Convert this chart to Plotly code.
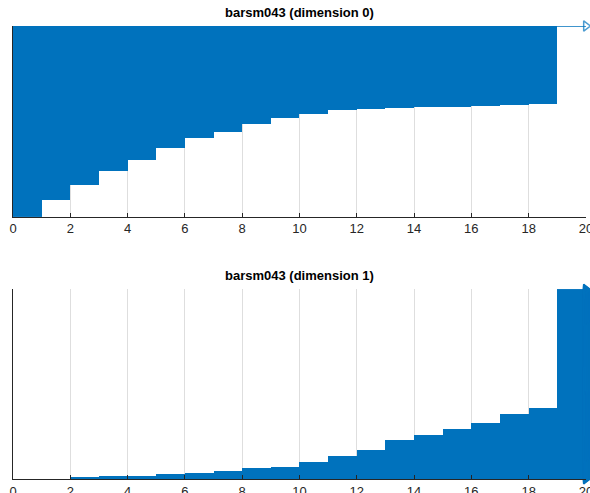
import plotly.graph_objects as go
from plotly.subplots import make_subplots

# Dimension 0: all bars born at 0; number of bars dying at each value
dim0_death_values = [1, 2, 3, 4, 5, 6, 7, 8, 9, 10, 11, 12, 13, 14, 15, 16, 17, 18, 19]
dim0_death_counts = [35, 29, 28, 23, 24, 19, 13, 15, 12, 9, 8, 2, 2, 1, 1, 1, 3, 2, 154]
dim0_infinite_count = 1

# Dimension 1: all bars infinite; number of bars born at each value
dim1_birth_values = [2, 3, 4, 5, 6, 7, 8, 9, 10, 11, 12, 13, 14, 15, 16, 17, 18, 19]
dim1_birth_counts = [2, 3, 0, 3, 3, 4, 5, 3, 9, 12, 13, 19, 11, 11, 13, 18, 13, 239]

x_max = 20
x_ticks = [0, 2, 4, 6, 8, 10, 12, 14, 16, 18, 20]
titles = ["barsm043 (dimension 0)", "barsm043 (dimension 1)"]

BLUE = "#0072BD"

# expand intervals
d0_birth, d0_death = [], []
for v, c in zip(dim0_death_values, dim0_death_counts):
    for _ in range(c):
        d0_birth.append(0)
        d0_death.append(v)
n0 = len(d0_birth) + dim0_infinite_count

d1_birth = []
for v, c in zip(dim1_birth_values, dim1_birth_counts):
    d1_birth.extend([v] * c)
n1 = len(d1_birth)

fig = make_subplots(rows=2, cols=1)

# top panel finite bars
fig.add_trace(go.Bar(
    orientation="h",
    y=list(range(len(d0_birth))),
    base=d0_birth,
    x=[d - b for b, d in zip(d0_birth, d0_death)],
    width=1.0,
    marker=dict(color=BLUE, line=dict(width=0)),
    showlegend=False, hoverinfo="skip",
), row=1, col=1)

# top panel infinite bar(s)
inf_rows = list(range(len(d0_birth), n0))
for r in inf_rows:
    fig.add_trace(go.Scatter(
        x=[0, x_max], y=[r, r], mode="lines+markers",
        line=dict(color=BLUE, width=1.5),
        marker=dict(symbol=["circle", "triangle-right-open"], size=[0, 9],
                    color=BLUE, line=dict(width=1.5, color=BLUE)),
        cliponaxis=False, showlegend=False, hoverinfo="skip",
    ), row=1, col=1)

# bottom panel infinite bars
fig.add_trace(go.Bar(
    orientation="h",
    y=list(range(n1)),
    base=d1_birth,
    x=[x_max - b for b in d1_birth],
    width=1.0,
    marker=dict(color=BLUE, line=dict(width=0)),
    showlegend=False, hoverinfo="skip",
), row=2, col=1)
fig.add_trace(go.Scatter(
    x=[x_max] * n1, y=list(range(n1)), mode="markers",
    marker=dict(symbol="triangle-right-open", size=9, color=BLUE,
                line=dict(width=1.5, color=BLUE)),
    cliponaxis=False, showlegend=False, hoverinfo="skip",
), row=2, col=1)

axis_common = dict(
    range=[0, x_max * 1.0001], tickvals=x_ticks, ticktext=[str(t) for t in x_ticks],
    ticks="inside", ticklen=4, tickcolor="#262626", tickwidth=1,
    showline=True, linecolor="#262626", linewidth=1,
    showgrid=True, gridcolor="#dedede", gridwidth=1,
    zeroline=False, tickfont=dict(family="Liberation Sans, Arial", size=13, color="#262626"),
    fixedrange=True, automargin=False, ticklabelstandoff=0,
    ticklabeloverflow="allow",
)
fig.update_xaxes(**axis_common)
fig.update_xaxes(domain=[0, 1])

fig.update_yaxes(showticklabels=False, ticks="", showgrid=False, zeroline=False,
                 showline=True, linecolor="#262626", linewidth=1, automargin=False)
fig.update_yaxes(range=[-0.5, n0 - 1], domain=[0.579, 1.0], row=1, col=1)
fig.update_yaxes(range=[-0.5, n1 - 0.5], domain=[0.0, 0.419], row=2, col=1)

fig.update_layout(
    width=590, height=493,
    margin=dict(l=13, r=4, t=26, b=14, autoexpand=False),
    paper_bgcolor="white", plot_bgcolor="white",
    barmode="overlay", bargap=0,
    annotations=[
        dict(text="<b>%s</b>" % titles[0], x=0.5, xref="paper", y=1.0, yref="paper",
             yanchor="bottom", yshift=4, showarrow=False,
             font=dict(family="Liberation Sans, Arial", size=13, color="black")),
        dict(text="<b>%s</b>" % titles[1], x=0.5, xref="paper", y=0.419, yref="paper",
             yanchor="bottom", yshift=4, showarrow=False,
             font=dict(family="Liberation Sans, Arial", size=13, color="black")),
    ],
)

fig.write_html("out.html")
